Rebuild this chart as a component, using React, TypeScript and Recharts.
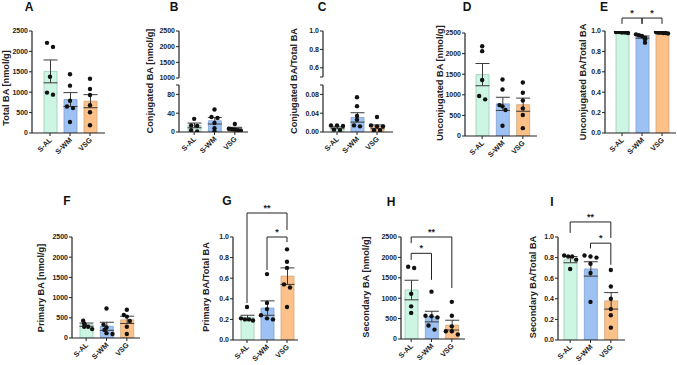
import React from "react";
import { ComposedChart, Bar, Cell, ErrorBar, Scatter, XAxis, YAxis, ReferenceLine } from "recharts";

const FONT = '"Liberation Sans", Arial, sans-serif';
const INK = "#222";

const groups = ["S-AL", "S-WM", "VSG"];
const fills = ["#cdf5e4", "#9ec1f3", "#fcc089"];
const strokes = ["#9ccab6", "#7d9fd0", "#d4a477"];

// A - Total BA
const totalMean = [1510, 820, 780];
const totalSem = [280, 170, 160];
const totalSAL = [2210, 2110, 1380, 990, 940];
const totalSWM = [1440, 1160, 790, 650, 610, 270];
const totalVSG = [1330, 1080, 930, 680, 510, 190];

// B - Conjugated BA
const conjMean = [14, 24, 8];
const conjSem = [5, 7, 2];
const conjSAL = [28, 14, 13, 4, 1];
const conjSWM = [48, 32, 30, 19, 8, 1];
const conjVSG = [17, 7, 6, 5, 4, 3];

// C - Conjugated BA / Total BA
const conjRatioMean = [0.009, 0.031, 0.011];
const conjRatioSem = [0.002, 0.01, 0.004];
const conjRatioSAL = [0.014, 0.014, 0.013, 0.005, 0.004];
const conjRatioSWM = [0.074, 0.055, 0.034, 0.026, 0.014, 0.012];
const conjRatioVSG = [0.032, 0.014, 0.012, 0.012, 0.004, 0.004];

// D - Unconjugated BA
const unconjMean = [1490, 780, 760];
const unconjSem = [270, 160, 160];
const unconjSAL = [2180, 2060, 1360, 970, 890];
const unconjSWM = [1370, 1130, 750, 720, 630, 250];
const unconjVSG = [1300, 1050, 860, 670, 510, 190];

// E - Unconjugated BA / Total BA
const unconjRatioMean = [0.985, 0.94, 0.975];
const unconjRatioSem = [0.003, 0.011, 0.003];
const unconjRatioSAL = [0.99, 0.99, 0.985, 0.985, 0.98];
const unconjRatioSWM = [0.967, 0.958, 0.951, 0.935, 0.919, 0.886];
const unconjRatioVSG = [0.99, 0.985, 0.985, 0.98, 0.98, 0.975];

// F - Primary BA
const primMean = [330, 290, 450];
const primSem = [40, 100, 90];
const primSAL = [430, 360, 280, 280, 220];
const primSWM = [730, 330, 260, 200, 120, 100];
const primVSG = [700, 570, 530, 420, 280, 100];

// G - Primary BA / Total BA
const primRatioMean = [0.22, 0.31, 0.62];
const primRatioSem = [0.02, 0.07, 0.08];
const primRatioSAL = [0.32, 0.21, 0.2, 0.2, 0.19];
const primRatioSWM = [0.64, 0.36, 0.3, 0.24, 0.21, 0.2];
const primRatioVSG = [0.88, 0.76, 0.7, 0.54, 0.51, 0.32];

// H - Secondary BA
const secMean = [1200, 550, 340];
const secSem = [240, 130, 120];
const secSAL = [1770, 1740, 1110, 800, 640];
const secSWM = [1160, 570, 560, 530, 330, 230];
const secVSG = [910, 570, 310, 190, 190, 110];

// I - Secondary BA / Total BA
const secRatioMean = [0.78, 0.69, 0.38];
const secRatioSem = [0.03, 0.07, 0.08];
const secRatioSAL = [0.82, 0.81, 0.81, 0.78, 0.69];
const secRatioSWM = [0.82, 0.81, 0.8, 0.74, 0.65, 0.37];
const secRatioVSG = [0.68, 0.52, 0.4, 0.3, 0.24, 0.12];

const amountTicks = [0, 500, 1000, 1500, 2000, 2500];
const ratioTicks = [0, 0.2, 0.4, 0.6, 0.8, 1.0];

const MAXN = 6;

type Row = { [k: string]: any };

function buildRows(means: number[], sems: number[], pts: number[][]): Row[] {
  return groups.map((g, i) => {
    const row: Row = { g, mean: means[i], sem: sems[i], pts: pts[i] };
    for (let k = 0; k < MAXN; k++) row["p" + k] = pts[i][k] ?? null;
    return row;
  });
}

// spread dots sideways when they sit on about the same value
const makeDot = (k: number, span: number) => (props: any) => {
  const { cx, cy, payload } = props;
  const v = payload ? payload["p" + k] : null;
  if (v == null || cx == null || cy == null || isNaN(cy)) return <g />;
  const vals: number[] = payload.pts;
  const cluster = vals.map((_, j) => j).filter((j) => Math.abs(vals[j] - v) < span * 0.045);
  const rank = cluster.indexOf(k);
  const step = cluster.length > 1 ? Math.min(6, 12 / (cluster.length - 1)) : 0;
  const off = (rank - (cluster.length - 1) / 2) * step;
  return <circle cx={cx + off} cy={cy} r={2.2} fill="#111" />;
};

const XTick = (props: any) => {
  const { x, y, payload } = props;
  return (
    <text
      x={x}
      y={y}
      dy={3.5}
      textAnchor="end"
      transform={`rotate(-45 ${x} ${y})`}
      fontSize={7.3}
      fontWeight={700}
      fill={INK}
      fontFamily={FONT}
    >
      {payload.value}
    </text>
  );
};

type Bracket = { a: string; b: string; y: number; ya: number; yb: number; text: string };

type PanelProps = {
  ax: number;
  right: number;
  top: number;
  bottom: number;
  above: number;
  padL?: number;
  padR?: number;
  rows: Row[];
  domain: [number, number];
  ticks: number[];
  fmt?: (v: number) => string;
  upper?: boolean;
  brackets?: Bracket[];
};

function Panel({ ax, right, top, bottom, above, padL = 0, padR = 0, rows, domain, ticks, fmt, upper, brackets = [] }: PanelProps) {
  const yW = 32;
  const left = ax - yW;
  const below = upper ? 6 : 30;
  const width = right - left + 3;
  const height = above + (bottom - top) + below;
  const span = domain[1] - domain[0];
  const line = { stroke: INK, strokeWidth: 1 };
  return (
    <div style={{ position: "absolute", left, top: top - above }}>
      <ComposedChart
        width={width}
        height={height}
        data={rows}
        margin={{ top: above, right: 3, left: 0, bottom: upper ? 6 : 0 }}
      >
        <XAxis
          dataKey="g"
          type="category"
          hide={upper}
          height={30}
          interval={0}
          padding={{ left: padL, right: padR }}
          tickSize={3}
          tick={<XTick />}
          axisLine={{ stroke: INK, strokeWidth: 1.2 }}
          tickLine={{ stroke: INK, strokeWidth: 1 }}
          allowDuplicatedCategory={false}
        />
        <YAxis
          type="number"
          width={yW}
          domain={domain}
          ticks={ticks}
          interval={0}
          allowDataOverflow
          tickFormatter={fmt}
          tickSize={3}
          tickMargin={1}
          axisLine={{ stroke: INK, strokeWidth: 1.2 }}
          tickLine={{ stroke: INK, strokeWidth: 1 }}
          tick={{ fontSize: 7, fontWeight: 700, fill: INK, fontFamily: FONT }}
        />
        {!upper && (
          <Bar dataKey="mean" barSize={13} isAnimationActive={false}>
            {rows.map((_, i) => (
              <Cell key={i} fill={fills[i]} stroke={strokes[i]} strokeWidth={0.8} />
            ))}
            <ErrorBar dataKey="sem" width={7} stroke="#3a3a3a" strokeWidth={1} />
          </Bar>
        )}
        {!upper &&
          Array.from({ length: MAXN }, (_, k) => (
            <Scatter key={k} dataKey={"p" + k} shape={makeDot(k, span)} isAnimationActive={false} />
          ))}
        {brackets.map((br, i) => (
          <React.Fragment key={i}>
            <ReferenceLine
              segment={[{ x: br.a, y: br.y }, { x: br.b, y: br.y }]}
              ifOverflow="visible"
              {...line}
              label={{ value: br.text, position: "top", offset: 2, fontSize: 9, fontWeight: 700, fill: INK, fontFamily: FONT }}
            />
            <ReferenceLine segment={[{ x: br.a, y: br.y }, { x: br.a, y: br.ya }]} ifOverflow="visible" {...line} />
            <ReferenceLine segment={[{ x: br.b, y: br.y }, { x: br.b, y: br.yb }]} ifOverflow="visible" {...line} />
          </React.Fragment>
        ))}
      </ComposedChart>
    </div>
  );
}

const f1 = (v: number) => v.toFixed(1);

const titles = [
  { t: "Total BA [nmol/g]", x: 6, y: 88 },
  { t: "Conjugated BA [nmol/g]", x: 150, y: 81 },
  { t: "Conjugated BA/Total BA", x: 294, y: 81 },
  { t: "Unconjugated BA [nmol/g]", x: 440, y: 83 },
  { t: "Unconjugated BA/Total BA", x: 583, y: 82 },
  { t: "Primary BA [nmol/g]", x: 41, y: 288 },
  { t: "Primary BA/Total BA", x: 206, y: 287 },
  { t: "Secondary BA [nmol/g]", x: 366, y: 287 },
  { t: "Secondary BA/Total BA", x: 533, y: 287 },
];

const letters = [
  { t: "A", x: 29, y: 7 },
  { t: "B", x: 174, y: 7 },
  { t: "C", x: 322, y: 7 },
  { t: "D", x: 467, y: 7 },
  { t: "E", x: 604, y: 7 },
  { t: "F", x: 67, y: 201 },
  { t: "G", x: 227, y: 201 },
  { t: "H", x: 391, y: 202 },
  { t: "I", x: 552, y: 202 },
];

export default function App() {
  const totalRows = buildRows(totalMean, totalSem, [totalSAL, totalSWM, totalVSG]);
  const conjRows = buildRows(conjMean, conjSem, [conjSAL, conjSWM, conjVSG]);
  const conjRatioRows = buildRows(conjRatioMean, conjRatioSem, [conjRatioSAL, conjRatioSWM, conjRatioVSG]);
  const unconjRows = buildRows(unconjMean, unconjSem, [unconjSAL, unconjSWM, unconjVSG]);
  const unconjRatioRows = buildRows(unconjRatioMean, unconjRatioSem, [unconjRatioSAL, unconjRatioSWM, unconjRatioVSG]);
  const primRows = buildRows(primMean, primSem, [primSAL, primSWM, primVSG]);
  const primRatioRows = buildRows(primRatioMean, primRatioSem, [primRatioSAL, primRatioSWM, primRatioVSG]);
  const secRows = buildRows(secMean, secSem, [secSAL, secSWM, secVSG]);
  const secRatioRows = buildRows(secRatioMean, secRatioSem, [secRatioSAL, secRatioSWM, secRatioVSG]);

  return (
    <div
      style={{
        position: "absolute",
        left: 0,
        top: 0,
        width: 677,
        height: 365,
        overflow: "hidden",
        background: "#fff",
        fontFamily: FONT,
      }}
    >
      {/* A */}
      <Panel ax={32} right={105} top={31} bottom={133} above={30} padL={8} padR={5}
        rows={totalRows} domain={[0, 2500]} ticks={amountTicks} />

      {/* B, broken axis */}
      <Panel ax={179} right={248} top={31} bottom={78} above={30} upper
        rows={conjRows} domain={[1000, 2500]} ticks={[1000, 1500, 2000, 2500]} />
      <Panel ax={179} right={248} top={85} bottom={132} above={6} padL={5} padR={3}
        rows={conjRows} domain={[0, 100]} ticks={[0, 40, 80, 100]}
        fmt={(v) => (v === 100 ? "" : String(v))} />

      {/* C, broken axis */}
      <Panel ax={323} right={393} top={31} bottom={77} above={30} upper
        rows={conjRatioRows} domain={[0.5, 1]} ticks={[0.5, 0.6, 0.8, 1.0]}
        fmt={(v) => (v === 0.5 ? "" : v.toFixed(1))} />
      <Panel ax={323} right={393} top={85} bottom={132} above={6} padL={4} padR={6}
        rows={conjRatioRows} domain={[0, 0.1]} ticks={[0, 0.04, 0.08, 0.1]}
        fmt={(v) => (v === 0.1 ? "" : v.toFixed(2))} />

      {/* D */}
      <Panel ax={465} right={537} top={33} bottom={136} above={30} padL={7} padR={4}
        rows={unconjRows} domain={[0, 2500]} ticks={amountTicks} />

      {/* E */}
      <Panel ax={605} right={676} top={31} bottom={133} above={30} padL={7} padR={4}
        rows={unconjRatioRows} domain={[0, 1]} ticks={ratioTicks} fmt={f1}
        brackets={[
          { a: "S-AL", b: "S-WM", y: 1.127, ya: 1.07, yb: 1.07, text: "*" },
          { a: "S-WM", b: "VSG", y: 1.127, ya: 1.07, yb: 1.07, text: "*" },
        ]} />

      {/* F */}
      <Panel ax={72} right={140} top={237} bottom={338} above={36} padL={4} padR={3}
        rows={primRows} domain={[0, 2500]} ticks={amountTicks} />

      {/* G */}
      <Panel ax={233} right={298} top={237} bottom={340} above={36} padL={4} padR={1}
        rows={primRatioRows} domain={[0, 1]} ticks={ratioTicks} fmt={f1}
        brackets={[
          { a: "S-AL", b: "VSG", y: 1.233, ya: 0.36, yb: 1.068, text: "**" },
          { a: "S-WM", b: "VSG", y: 1.0, ya: 0.68, yb: 0.95, text: "*" },
        ]} />

      {/* H */}
      <Panel ax={401} right={465} top={237} bottom={339} above={36} padL={0} padR={3}
        rows={secRows} domain={[0, 2500]} ticks={amountTicks}
        brackets={[
          { a: "S-AL", b: "VSG", y: 2500, ya: 2350, yb: 1250, text: "**" },
          { a: "S-AL", b: "S-WM", y: 2100, ya: 1940, yb: 1450, text: "*" },
        ]} />

      {/* I */}
      <Panel ax={558} right={625} top={237} bottom={340} above={36} padL={2} padR={4}
        rows={secRatioRows} domain={[0, 1]} ticks={ratioTicks} fmt={f1}
        brackets={[
          { a: "S-AL", b: "VSG", y: 1.146, ya: 1.04, yb: 0.99, text: "**" },
          { a: "S-WM", b: "VSG", y: 0.94, ya: 0.89, yb: 0.73, text: "*" },
        ]} />

      <svg width={677} height={365} style={{ position: "absolute", left: 0, top: 0, pointerEvents: "none" }}>
        {titles.map((d) => (
          <text
            key={d.t}
            x={d.x}
            y={d.y}
            transform={`rotate(-90 ${d.x} ${d.y})`}
            textAnchor="middle"
            dominantBaseline="central"
            fontSize={9.2}
            fontWeight={700}
            fill={INK}
            fontFamily={FONT}
          >
            {d.t}
          </text>
        ))}
        {letters.map((d) => (
          <text
            key={d.t}
            x={d.x}
            y={d.y}
            textAnchor="middle"
            dominantBaseline="central"
            fontSize={12}
            fontWeight={700}
            fill="#111"
            fontFamily={FONT}
          >
            {d.t}
          </text>
        ))}
      </svg>
    </div>
  );
}
